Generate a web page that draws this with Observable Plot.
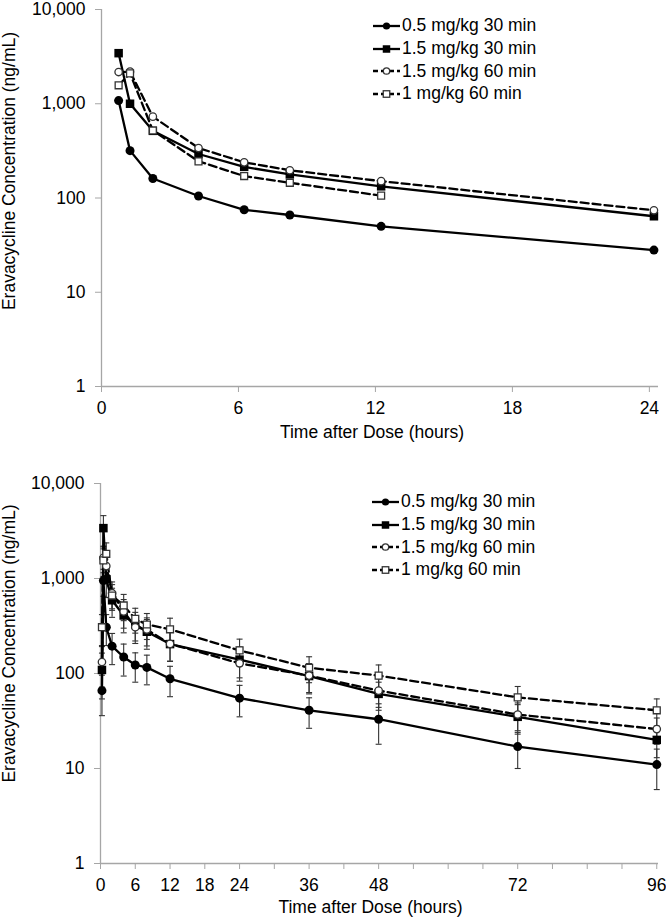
<!DOCTYPE html>
<html><head><meta charset="utf-8">
<script src="https://cdn.jsdelivr.net/npm/d3@7"></script>
<script src="https://cdn.jsdelivr.net/npm/@observablehq/plot@0.6"></script>
<style>
body{margin:0;background:#fff;font-family:"Liberation Sans",Arial,sans-serif;}
#wrap{position:relative;width:666px;height:918px;overflow:hidden;}
#wrap > svg{display:block;}
.legend{position:absolute;font-size:17.5px;color:#000;}
.legend .row{display:flex;align-items:center;height:22.7px;white-space:nowrap;}
.legend svg{margin-right:2px;}
</style></head><body><div id="wrap"></div>
<script>
// ---------- data ----------
const seriesNames = ["0.5 mg/kg 30 min", "1.5 mg/kg 30 min", "1.5 mg/kg 60 min", "1 mg/kg 60 min"];
const yTicks = [1, 10, 100, 1000, 10000];

// top panel (single dose, day 1)
const topTime = [0.75, 1.25, 2.25, 4.25, 6.25, 8.25, 12.25, 24.2];
const top05_30 = [1080, 318, 161, 105, 75, 66, 50, 28];
const top15_30 = [3440, 1000, 516, 293, 214, 178, 133, 64];
const top15_60 = [2170, 2190, 730, 339, 239, 197, 151, 74];
const top1_60 = [1570, 2100, 520, 245, 171, 145, 106, null];
const topXTicks = [0, 6, 12, 18, 24];

// bottom panel (mean ± SD)
const botTime = [0.25, 0.5, 1, 2, 4, 6, 8, 12, 24, 36, 48, 72, 96];
const bot05_30 = [66, 950, 307, 194, 149, 123, 116, 88, 55, 41, 33, 17, 11];
const sd05_30 = [30, 300, 110, 70, 55, 42, 40, 31, 20, 14.5, 15, 7, 5];
const bot15_30 = [109, 3390, 980, 590, 408, 330, 275, 204, 140, 94, 61, 35, 20];
const sd15_30 = [55, 1200, 350, 200, 140, 110, 95, 70, 50, 33, 20, 12, 7];
const bot15_60 = [132, 1650, 1350, 700, 450, 307, 290, 205, 128, 95, 66, 37, 26];
const sd15_60 = [60, 500, 400, 220, 150, 100, 95, 70, 45, 32, 22, 12, 8];
const bot1_60 = [307, 1550, 1820, 662, 520, 376, 328, 292, 175, 115, 95, 56, 41];
const sd1_60 = [110, 500, 550, 200, 160, 110, 100, 90, 55, 35, 28, 17, 13];
const botXTicks = [0, 6, 12, 18, 24, 30, 36, 42, 48, 54, 60, 66, 72, 78, 84, 90, 96];
const botXLabels = [0, 6, 12, 18, 24, 36, 48, 72, 96];

const yTitle = "Eravacycline Concentration (ng/mL)";
const xTitle = "Time after Dose (hours)";

// ---------- styles ----------
const AX = "#a6a6a6";
const styles = [
  {dash: null, symbol: "circle", r: 4.5, fill: "#000", stroke: "#000", sw: 0},
  {dash: null, symbol: "square", r: 4.8, fill: "#000", stroke: "#000", sw: 0},
  {dash: "8,4", symbol: "circle", r: 3.7, fill: "#fff", stroke: "#333", sw: 1.3},
  {dash: "8,4", symbol: "square", r: 3.9, fill: "#fff", stroke: "#333", sw: 1.3}
];

function rowsFor(times, series, sds) {
  return series.map((vals, k) => times.map((t, i) => ({
    t, c: vals[i], sd: sds ? sds[k][i] : null, s: seriesNames[k], k
  })).filter(d => d.c != null));
}

const capSymbol = {draw(ctx, size) {const w = Math.sqrt(size / Math.PI); ctx.moveTo(-w, 0); ctx.lineTo(w, 0);}};

function chart({groups, xDomain, xTicks, xFormat, height, mt, mb, ml, mr, yTitleDx, yTitleDy, xTitleDx, xTitleDy, errors}) {
  const marks = [];
  marks.push(Plot.ruleX([0], {stroke: AX, strokeWidth: 1.3}));
  marks.push(Plot.ruleY([1], {stroke: AX, strokeWidth: 1.3}));
  marks.push(Plot.axisY({ticks: yTicks, tickFormat: d3.format(","), tickSize: 6, tickPadding: 10, stroke: AX, fill: "#000", label: null}));
  marks.push(Plot.axisX({ticks: xTicks, tickFormat: xFormat, tickSize: 6, tickPadding: 9, stroke: AX, fill: "#000", label: null}));
  if (errors) {
    const all = groups.flat().filter(d => d.sd != null);
    const lo = d => Math.max(d.c - d.sd, 1.2);
    marks.push(Plot.ruleX(all, {x: "t", y1: lo, y2: d => d.c + d.sd, stroke: "#333", strokeWidth: 1.1}));
    marks.push(Plot.dot(all, {x: "t", y: lo, symbol: capSymbol, r: 3, stroke: "#333", strokeWidth: 1.1, fill: "none"}));
    marks.push(Plot.dot(all, {x: "t", y: d => d.c + d.sd, symbol: capSymbol, r: 3, stroke: "#333", strokeWidth: 1.1, fill: "none"}));
  }
  groups.forEach((g, k) => {
    const st = styles[k];
    marks.push(Plot.line(g, {x: "t", y: "c", stroke: "#000", strokeWidth: 2.3, strokeDasharray: st.dash}));
  });
  groups.forEach((g, k) => {
    const st = styles[k];
    marks.push(Plot.dot(g, {x: "t", y: "c", symbol: st.symbol, r: st.r, fill: st.fill, stroke: st.stroke, strokeWidth: st.sw}));
  });
  marks.push(Plot.text([yTitle], {frameAnchor: "left", rotate: -90, dx: yTitleDx, dy: yTitleDy, textAnchor: "middle", lineAnchor: "middle", fill: "#000"}));
  marks.push(Plot.text([xTitle], {frameAnchor: "bottom", dx: xTitleDx, dy: xTitleDy, textAnchor: "middle", lineAnchor: "middle", fill: "#000"}));
  return Plot.plot({
    width: 666, height,
    marginTop: mt, marginBottom: mb, marginLeft: ml, marginRight: mr,
    style: {fontFamily: "'Liberation Sans', Arial, sans-serif", fontSize: "17.5px", color: "#000", background: "#fff", overflow: "visible"},
    x: {domain: xDomain},
    y: {type: "log", domain: [1, 10000]},
    marks
  });
}

const wrap = document.getElementById("wrap");

const topGroups = rowsFor(topTime, [top05_30, top15_30, top15_60, top1_60], null);
wrap.appendChild(chart({
  groups: topGroups, xDomain: [0, 24.4], xTicks: topXTicks, xFormat: d => String(d),
  height: 460, mt: 9, mb: 74, ml: 101, mr: 8,
  yTitleDx: -92, yTitleDy: -27, xTitleDx: -8, xTitleDy: 46, errors: false
}));

const botGroups = rowsFor(botTime, [bot05_30, bot15_30, bot15_60, bot1_60], [sd05_30, sd15_30, sd15_60, sd1_60]);
wrap.appendChild(chart({
  groups: botGroups, xDomain: [0, 96.3], xTicks: botXTicks,
  xFormat: d => botXLabels.includes(d) ? String(d) : "",
  height: 458, mt: 23, mb: 55, ml: 100, mr: 8,
  yTitleDx: -91, yTitleDy: -30, xTitleDx: -9, xTitleDy: 44, errors: true
}));

// ---------- legends (HTML overlay) ----------
function legendMarker(k) {
  const st = styles[k];
  const ns = "http://www.w3.org/2000/svg";
  const svg = document.createElementNS(ns, "svg");
  svg.setAttribute("width", 27); svg.setAttribute("height", 14);
  const line = document.createElementNS(ns, "line");
  line.setAttribute("x1", 0); line.setAttribute("x2", 27); line.setAttribute("y1", 7); line.setAttribute("y2", 7);
  line.setAttribute("stroke", "#000"); line.setAttribute("stroke-width", 2.3);
  if (st.dash) line.setAttribute("stroke-dasharray", "5,3");
  svg.appendChild(line);
  let m;
  if (st.symbol === "circle") {
    m = document.createElementNS(ns, "circle");
    m.setAttribute("cx", 13.5); m.setAttribute("cy", 7); m.setAttribute("r", st.fill === "#000" ? 3.6 : 3.2);
  } else {
    m = document.createElementNS(ns, "rect");
    const s = st.fill === "#000" ? 7.5 : 6.5;
    m.setAttribute("x", 13.5 - s / 2); m.setAttribute("y", 7 - s / 2); m.setAttribute("width", s); m.setAttribute("height", s);
  }
  m.setAttribute("fill", st.fill); m.setAttribute("stroke", st.stroke); m.setAttribute("stroke-width", st.sw || 0);
  svg.appendChild(m);
  return svg;
}
function addLegend(left, top) {
  const lg = document.createElement("div");
  lg.className = "legend";
  lg.style.left = left + "px"; lg.style.top = top + "px";
  seriesNames.forEach((name, k) => {
    const row = document.createElement("div");
    row.className = "row";
    row.appendChild(legendMarker(k));
    const span = document.createElement("span");
    span.textContent = name;
    row.appendChild(span);
    lg.appendChild(row);
  });
  wrap.appendChild(lg);
}
addLegend(373, 14.5);
addLegend(372, 490.5);
</script></body></html>
